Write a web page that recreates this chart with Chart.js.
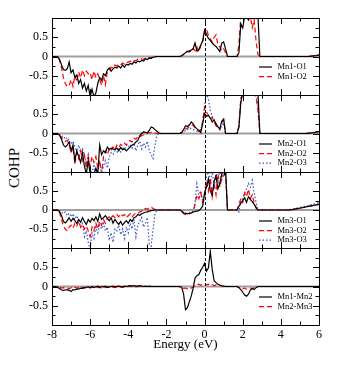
<!DOCTYPE html>
<html>
<head>
<meta charset="utf-8">
<script src="https://cdn.jsdelivr.net/npm/chart.js@4.4.1/dist/chart.umd.min.js"></script>
<style>
  html, body { margin: 0; padding: 0; background: #fff; }
  #figure { position: relative; width: 343px; height: 366px; overflow: hidden; }
  .panel { position: absolute; left: 0; width: 343px; }
  #ylabel {
    position: absolute; left: -16px; top: 159px; width: 60px; height: 18px;
    line-height: 18px; text-align: center; transform: rotate(-90deg);
    font-family: 'Liberation Serif', 'Times New Roman', serif; font-size: 15px; color: #000;
  }
</style>
</head>
<body>
<div id="figure">
  <div id="ylabel">COHP</div>
</div>
<script>
// Energy grid (eV), 0.1 eV steps
const energy = [
  -8.0, -7.9, -7.8, -7.7, -7.6, -7.5, -7.4, -7.3, -7.2, -7.1,
  -7.0, -6.9, -6.8, -6.7, -6.6, -6.5, -6.4, -6.3, -6.2, -6.1,
  -6.0, -5.9, -5.8, -5.7, -5.6, -5.5, -5.4, -5.3, -5.2, -5.1,
  -5.0, -4.9, -4.8, -4.7, -4.6, -4.5, -4.4, -4.3, -4.2, -4.1,
  -4.0, -3.9, -3.8, -3.7, -3.6, -3.5, -3.4, -3.3, -3.2, -3.1,
  -3.0, -2.9, -2.8, -2.7, -2.6, -2.5, -2.4, -2.3, -2.2, -2.1,
  -2.0, -1.9, -1.8, -1.7, -1.6, -1.5, -1.4, -1.3, -1.2, -1.1,
  -1.0, -0.9, -0.8, -0.7, -0.6, -0.5, -0.4, -0.3, -0.2, -0.1,
  0.0, 0.1, 0.2, 0.3, 0.4, 0.5, 0.6, 0.7, 0.8, 0.9,
  1.0, 1.1, 1.2, 1.3, 1.4, 1.5, 1.6, 1.7, 1.8, 1.9,
  2.0, 2.1, 2.2, 2.3, 2.4, 2.5, 2.6, 2.7, 2.8, 2.9,
  3.0, 3.1, 3.2, 3.3, 3.4, 3.5, 3.6, 3.7, 3.8, 3.9,
  4.0, 4.1, 4.2, 4.3, 4.4, 4.5, 4.6, 4.7, 4.8, 4.9,
  5.0, 5.1, 5.2, 5.3, 5.4, 5.5, 5.6, 5.7, 5.8, 5.9,
  6.0
];

// Panel 1
const mn1O1 = [
  0, 0, 0, -0.01, -0.08, -0.22, -0.34, -0.36, -0.32, -0.14,
  -0.42, -0.35, -0.55, -0.48, -0.7, -0.6, -0.82, -0.7, -0.9, -0.75,
  -1.05, -0.85, -1.05, -0.95, -0.7, -0.55, -0.62, -0.45, -0.5, -0.35,
  -0.3, -0.38, -0.32, -0.28, -0.3, -0.25, -0.3, -0.22, -0.28, -0.2,
  -0.22, -0.18, -0.2, -0.14, -0.17, -0.12, -0.14, -0.1, -0.12, -0.06,
  -0.08, -0.04, -0.05, -0.02, -0.01, 0, 0, 0, 0, 0,
  0, 0, 0, 0, 0, 0, 0, 0, 0.02, 0.06,
  0.1, 0.14, 0.12, 0.17, 0.2, 0.35, 0.14, 0.18, 0.3, 0.4,
  0.69, 0.58, 0.47, 0.42, 0.35, 0.3, 0.26, 0.2, 0.13, 0.35,
  0.38, 0.2, 0, 0, 0, 0, 0, 0, 0.1, 0.85,
  0.74, 1.05, 1.05, 0.95, 1.05, 1.05, 1.05, 1.05, 1.05, 0,
  0, 0, 0, 0, 0, 0, 0, 0, 0, 0,
  0, 0, 0, 0, 0, 0, 0, 0, 0, 0,
  0, 0, 0, 0, 0, 0.005, 0.01, 0.015, 0.02, 0.03,
  0.04
];
const mn1O2 = [
  0, 0, 0, 0, -0.1, -0.3, -0.55, -0.7, -0.78, -0.75,
  -0.6, -0.78, -0.5, -0.65, -0.4, -0.55, -0.35, -0.5, -0.38, -0.45,
  -0.42, -0.6, -0.38, -0.55, -0.45, -0.6, -0.75, -0.5, -0.73, -0.4,
  -0.35, -0.28, -0.3, -0.22, -0.25, -0.2, -0.22, -0.17, -0.2, -0.15,
  -0.15, -0.12, -0.14, -0.1, -0.11, -0.07, -0.09, -0.06, -0.08, -0.04,
  -0.05, -0.03, -0.03, -0.01, 0, 0, 0, 0, 0, 0,
  0, 0, 0, 0, 0, 0, 0, 0, 0.02, 0.05,
  0.1, 0.12, 0.15, 0.12, 0.2, 0.15, 0.25, 0.12, 0.28, 0.4,
  0.6, 0.72, 0.55, 0.45, 0.38, 0.5, 0.56, 0.3, 0.25, 0.15,
  0.2, 0.1, 0, 0, 0, 0, 0, 0, 0.3, 1.05,
  1.05, 1.05, 1.05, 1.05, 1.05, 0.75, 0.95, 0.4, 0.05, 0,
  0, 0, 0, 0, 0, 0, 0, 0, 0, 0,
  0, 0, 0, 0, 0, 0, 0, 0, 0, 0,
  0, 0, 0, 0, 0, 0.005, 0.01, 0.015, 0.02, 0.03,
  0.04
];

// Panel 2
const mn2O1 = [
  0, 0, 0, 0, -0.05, -0.15, -0.3, -0.35, -0.3, -0.22,
  -0.45, -0.3, -0.7, -0.45, -0.6, -0.75, -0.5, -0.85, -1.05, -0.7,
  -1.05, -1.05, -1.05, -0.9, -1.05, -0.3, -0.55, -0.45, -0.5, -0.35,
  -0.42, -0.38, -0.4, -0.42, -0.38, -0.45, -0.36, -0.42, -0.4, -0.45,
  -0.4, -0.35, -0.3, -0.28, -0.22, -0.18, -0.06, 0, 0.04, 0.03,
  0.02, 0.08, 0.17, 0.15, 0.1, 0.06, 0.02, 0, 0, 0,
  0, 0, 0, 0, 0, 0, 0, 0, 0.03, 0.1,
  0.2, 0.18, 0.22, 0.3, 0.25, 0.17, 0.12, 0.08, 0.02, 0.25,
  0.52, 0.45, 0.47, 0.4, 0.3, 0.35, 0.25, 0.17, 0.12, 0.32,
  0.38, 0, 0, 0, 0, 0, 0, 0, 0.15, 0.8,
  1.05, 1.05, 1.05, 1.05, 1.05, 1.05, 1.05, 1.05, 1.05, 0,
  0, 0, 0, 0, 0, 0, 0, 0, 0, 0,
  0, 0, 0, 0, 0, 0, 0, 0, 0, 0,
  0, 0, 0, 0, 0.005, 0.01, 0.015, 0.02, 0.03, 0.04,
  0.05
];
const mn2O2 = [
  0, 0, 0, 0, -0.05, -0.1, -0.15, -0.2, -0.18, -0.3,
  -0.5, -0.35, -0.8, -0.5, -0.65, -0.45, -0.7, -0.55, -0.9, -0.6,
  -0.85, -0.6, -0.75, -0.6, -0.9, -0.7, -1.05, -0.6, -0.45, -0.55,
  -0.4, -0.45, -0.35, -0.42, -0.3, -0.36, -0.28, -0.32, -0.25, -0.3,
  -0.22, -0.18, -0.22, -0.12, -0.15, -0.08, -0.1, -0.05, -0.04, -0.02,
  0, 0.02, 0.03, 0.02, 0.01, 0, 0, 0, 0, 0,
  0, 0, 0, 0, 0, 0, 0, 0, 0.02, 0.06,
  0.12, 0.14, 0.18, 0.2, 0.22, 0.15, 0.1, 0.06, 0.1, 0.3,
  0.68, 0.55, 0.48, 0.38, 0.42, 0.3, 0.2, 0.15, 0.1, 0.28,
  0.35, 0, 0, 0, 0, 0, 0, 0, 0.2, 0.9,
  1.05, 1.05, 1.05, 1.05, 1.05, 1.05, 1.05, 0.95, 0.6, 0,
  0, 0, 0, 0, 0, 0, 0, 0, 0, 0,
  0, 0, 0, 0, 0, 0, 0, 0, 0, 0,
  0, 0, 0, 0, 0.005, 0.01, 0.015, 0.02, 0.03, 0.04,
  0.05
];
const mn2O3 = [
  0, 0, 0, 0, -0.04, -0.08, -0.06, -0.15, -0.1, -0.2,
  -0.28, -0.2, -0.35, -0.45, -0.3, -0.5, -0.4, -0.6, -0.75, -0.55,
  -0.9, -1.05, -0.8, -1.05, -0.95, -0.75, -1.05, -0.85, -0.7, -0.9,
  -0.6, -0.5, -0.55, -0.45, -0.5, -0.4, -0.48, -0.35, -0.42, -0.3,
  -0.35, -0.28, -0.38, -0.25, -0.45, -0.3, -0.2, -0.4, -0.25, -0.35,
  -0.2, -0.45, -0.55, -0.65, -0.3, -0.05, 0, 0, 0, 0,
  0, 0, 0, 0, 0, 0, 0, 0, 0.01, 0.04,
  0.08, 0.1, 0.15, 0.12, 0.1, 0.08, 0.06, 0.05, 0.1, 0.3,
  0.75, 1.05, 0.9, 0.6, 0.45, 0.35, 0.25, 0.18, 0.1, 0.2,
  0.28, 0, 0, 0, 0, 0, 0, 0, 0.2, 0.95,
  1.05, 1.05, 1.05, 1.05, 1.05, 1.05, 1.05, 1.05, 0.7, 0,
  0, 0, 0, 0, 0, 0, 0, 0, 0, 0,
  0, 0, 0, 0, 0, 0, 0, 0, 0, 0,
  0, 0, 0, 0, 0.005, 0.01, 0.015, 0.02, 0.03, 0.04,
  0.05
];

// Panel 3
const mn3O1 = [
  0, 0, 0, 0, -0.04, -0.15, -0.3, -0.34, -0.28, -0.2,
  -0.3, -0.22, -0.28, -0.35, -0.25, -0.32, -0.2, -0.3, -0.38, -0.25,
  -0.32, -0.22, -0.28, -0.18, -0.3, -0.1, -0.25, -0.2, -0.15, -0.22,
  -0.28, -0.2, -0.35, -0.25, -0.32, -0.38, -0.3, -0.4, -0.33, -0.28,
  -0.35, -0.25, -0.3, -0.2, -0.18, -0.12, -0.14, -0.1, -0.08, -0.06,
  -0.05, -0.03, -0.02, -0.01, 0, 0, 0, 0, 0, 0,
  0, 0, 0, 0, 0, 0, 0, 0, -0.03, -0.08,
  -0.09, -0.1, -0.09, -0.08, -0.06, -0.04, -0.03, -0.01, 0.03, 0.1,
  0.45, 0.6, 0.82, 0.5, 0.39, 0.75, 0.9, 0.56, 0.7, 0.95,
  1.0, 1.05, 0, 0, 0, 0, 0, 0, 0.1, 0.18,
  0.25, 0.32, 0.2, 0.35, 0.28, 0.22, 0.15, 0.05, 0, 0,
  0, 0, 0, 0, 0, 0, 0, 0, 0, 0,
  0, 0, 0, 0, 0, 0.005, 0.01, 0.02, 0.03, 0.04,
  0.05, 0.06, 0.07, 0.08, 0.09, 0.1, 0.11, 0.12, 0.13, 0.14,
  0.15
];
const mn3O2 = [
  0, 0, 0, 0, -0.08, -0.25, -0.42, -0.5, -0.55, -0.45,
  -0.4, -0.48, -0.35, -0.42, -0.3, -0.45, -0.38, -0.5, -0.42, -0.55,
  -0.7, -0.45, -0.55, -0.35, -0.5, -0.3, -0.4, -0.25, -0.35, -0.22,
  -0.18, -0.22, -0.15, -0.2, -0.12, -0.18, -0.1, -0.15, -0.12, -0.2,
  -0.15, -0.1, -0.18, -0.12, -0.08, -0.1, -0.05, -0.03, 0.02, 0.04,
  0.02, 0.06, 0.08, 0.04, 0.02, 0, 0, 0, 0, 0,
  0, 0, 0, 0, 0, 0, 0, 0, -0.04, -0.1,
  -0.12, -0.11, -0.1, -0.08, -0.04, 0.15, 0.4, 0.3, 0.45, 0.2,
  0.3, 0.75, 0.5, 0.85, 0.35, 0.7, 0.4, 0.95, 0.6, 0.85,
  0.9, 1.05, 0, 0, 0, 0, 0, 0, 0.15, 0.3,
  0.2, 0.45, 0.35, 0.55, 0.3, 0.4, 0.2, 0.08, 0, 0,
  0, 0, 0, 0, 0, 0, 0, 0, 0, 0,
  0, 0, 0, 0, 0, 0.005, 0.01, 0.02, 0.03, 0.04,
  0.05, 0.06, 0.07, 0.08, 0.09, 0.1, 0.11, 0.12, 0.13, 0.14,
  0.15
];
const mn3O3 = [
  0, 0, 0, 0, -0.02, -0.06, -0.1, -0.05, -0.15, -0.08,
  -0.18, -0.1, -0.25, -0.15, -0.3, -0.45, -0.35, -0.7, -0.55, -0.85,
  -1.05, -0.6, -0.75, -0.45, -0.6, -0.4, -0.5, -0.35, -0.55, -0.45,
  -0.8, -0.6, -0.85, -0.5, -0.55, -0.4, -0.65, -0.5, -0.75, -0.45,
  -0.6, -0.35, -0.5, -0.25, -0.7, -0.4, -0.3, -0.2, -0.45, -0.35,
  -0.2, -0.9, -0.95, -0.5, -0.1, 0, 0, 0, 0, 0,
  0, 0, 0, 0, 0, 0, 0, 0, -0.02, -0.06,
  -0.08, -0.08, -0.07, -0.05, -0.03, 0.2, 0.69, 0.4, 0.5, 0.25,
  0.4, 0.9, 1.05, 0.7, 1.05, 0.6, 0.95, 0.75, 1.05, 0.8,
  1.05, 1.05, 0, 0, 0, 0, 0, 0, -0.05, 0.25,
  0.3, 0.45, 0.55, 0.7, 0.6, 0.78, 0.45, 0.2, 0, 0,
  0, 0, 0, 0, 0, 0, 0, 0, 0, 0,
  0, 0, 0, 0, 0.01, 0.02, 0.03, 0.04, 0.05, 0.06,
  0.07, 0.08, 0.09, 0.1, 0.11, 0.12, 0.14, 0.15, 0.17, 0.18,
  0.2
];

// Panel 4
const mn1Mn2 = [
  0, 0, 0, -0.02, -0.06, -0.09, -0.1, -0.09, -0.08, -0.1,
  -0.13, -0.08, -0.09, -0.06, -0.07, -0.04, -0.05, -0.03, -0.02, -0.01,
  -0.03, 0, -0.02, -0.01, 0.01, -0.02, 0, -0.01, 0.01, -0.02,
  -0.01, 0, 0.01, -0.01, 0, 0.01, 0, -0.01, 0.01, 0,
  0.01, 0.02, 0.01, 0.02, 0.01, 0.01, 0.02, 0.01, 0, 0.01,
  0, 0.01, 0, 0, 0, 0, 0, 0, 0, 0,
  0, 0, 0, 0, 0, 0, 0, 0, -0.02, -0.2,
  -0.6, -0.55, -0.4, -0.25, -0.05, 0.22, 0.28, 0.31, 0.42, 0.5,
  0.6, 0.4, 0.48, 0.91, 0.45, 0.15, 0.1, 0.06, 0.04, 0.02,
  0.01, 0, 0, 0, 0, 0, 0, 0, -0.03, -0.08,
  -0.15, -0.22, -0.25, -0.2, -0.1, -0.05, -0.08, -0.03, 0, 0,
  0, 0, 0, 0, 0, 0, 0, 0, 0, 0,
  0, 0, 0, 0, 0, 0, 0, 0, 0, 0,
  0, 0, 0, 0, 0, 0, 0, 0, 0, 0,
  0
];
const mn2Mn3 = [
  0, 0, 0, 0, -0.02, -0.04, -0.03, -0.05, -0.03, -0.06,
  -0.03, -0.05, -0.02, -0.04, -0.03, -0.05, -0.02, -0.04, -0.03, -0.02,
  -0.04, -0.02, -0.03, -0.05, -0.02, -0.03, -0.04, -0.02, -0.03, -0.02,
  -0.03, -0.01, -0.02, -0.03, -0.01, -0.02, -0.01, -0.02, -0.01, 0,
  0.01, 0, 0.01, 0, -0.01, 0, 0.01, 0, 0, 0,
  0, 0, 0, 0, 0, 0, 0, 0, 0, 0,
  0, 0, 0, 0, 0, 0, 0, -0.01, -0.03, -0.05,
  -0.04, -0.06, -0.03, -0.04, -0.02, 0.02, 0.04, 0.06, 0.03, 0.05,
  0.07, 0.04, 0.06, 0.03, 0.05, 0.02, 0.04, 0.02, 0.03, 0.01,
  0, 0, 0, 0, 0, 0, 0, 0, -0.02, -0.05,
  -0.06, -0.04, -0.07, -0.05, -0.04, -0.06, -0.03, -0.02, 0, 0,
  0, 0, 0, 0, 0, 0, 0, 0, 0, 0,
  0, 0, 0, 0, 0, 0, 0, 0, 0, 0,
  0, 0, 0, 0, 0, 0, 0, 0, 0, 0,
  0
];

const FONT = "'Liberation Serif', 'Times New Roman', serif";
const STYLES = {
  black: { color: '#000000', dash: [] },
  red:   { color: '#ff0000', dash: [5, 3] },
  blue:  { color: '#3a55d0', dash: [1.5, 2] }
};

const panels = [
  { top: 18, bottom: 95, series: [
    { label: 'Mn1-O1', values: mn1O1, style: 'black' },
    { label: 'Mn1-O2', values: mn1O2, style: 'red' }
  ]},
  { top: 95, bottom: 172, series: [
    { label: 'Mn2-O1', values: mn2O1, style: 'black' },
    { label: 'Mn2-O2', values: mn2O2, style: 'red' },
    { label: 'Mn2-O3', values: mn2O3, style: 'blue' }
  ]},
  { top: 172, bottom: 248, series: [
    { label: 'Mn3-O1', values: mn3O1, style: 'black' },
    { label: 'Mn3-O2', values: mn3O2, style: 'red' },
    { label: 'Mn3-O3', values: mn3O3, style: 'blue' }
  ]},
  { top: 248, bottom: 325, series: [
    { label: 'Mn1-Mn2', values: mn1Mn2, style: 'black' },
    { label: 'Mn2-Mn3', values: mn2Mn3, style: 'red' }
  ]}
];

// zero line, dashed Fermi level, frame, inward ticks and legend
const panelDecor = {
  id: 'panelDecor',
  beforeDatasetsDraw(chart) {
    const { ctx, chartArea: a, scales: { y } } = chart;
    const y0 = y.getPixelForValue(0);
    ctx.save();
    ctx.strokeStyle = '#a0a0a0';
    ctx.lineWidth = 2;
    ctx.beginPath();
    ctx.moveTo(a.left, y0);
    ctx.lineTo(a.right, y0);
    ctx.stroke();
    ctx.restore();
  },
  afterDatasetsDraw(chart) {
    const { ctx, chartArea: a, scales: { x, y } } = chart;
    ctx.save();
    // Fermi level
    const xf = Math.round(x.getPixelForValue(0)) + 0.5;
    ctx.strokeStyle = '#000';
    ctx.lineWidth = 1;
    ctx.setLineDash([3, 2]);
    ctx.beginPath();
    ctx.moveTo(xf, a.top);
    ctx.lineTo(xf, a.bottom);
    ctx.stroke();
    ctx.setLineDash([]);

    // inward ticks
    ctx.beginPath();
    for (let e = -8; e <= 6; e++) {
      const px = Math.round(x.getPixelForValue(e)) + 0.5;
      const len = e % 2 === 0 ? 6 : 3.5;
      ctx.moveTo(px, a.top); ctx.lineTo(px, a.top + len);
      ctx.moveTo(px, a.bottom); ctx.lineTo(px, a.bottom - len);
    }
    for (let k = -4; k <= 4; k++) {
      const v = k * 0.25;
      const py = Math.round(y.getPixelForValue(v)) + 0.5;
      const len = k % 2 === 0 ? 6 : 3.5;
      ctx.moveTo(a.left, py); ctx.lineTo(a.left + len, py);
      ctx.moveTo(a.right, py); ctx.lineTo(a.right - len, py);
    }
    ctx.stroke();

    // frame
    ctx.strokeRect(Math.round(a.left) + 0.5, Math.round(a.top) + 0.5,
      Math.round(a.right - a.left), Math.round(a.bottom - a.top));

    // legend inside the lower right corner
    ctx.font = '8.5px ' + FONT;
    ctx.textBaseline = 'middle';
    ctx.fillStyle = '#000';
    chart.data.datasets.forEach((ds, i) => {
      const ly = a.top + 49 + i * 9.6;
      ctx.strokeStyle = ds.borderColor;
      ctx.lineWidth = 1.2;
      ctx.setLineDash(ds.borderDash);
      ctx.beginPath();
      ctx.moveTo(259, ly);
      ctx.lineTo(272, ly);
      ctx.stroke();
      ctx.setLineDash([]);
      ctx.fillText(ds.label, 277.5, ly);
    });
    ctx.restore();
  }
};

const figure = document.getElementById('figure');
const FIG_H = 366;
const PAD = 8;
const BOTTOM_PAD = 13.8;

panels.forEach((panel, idx) => {
  const last = idx === panels.length - 1;
  const boxTop = panel.top - PAD;
  const boxH = last ? FIG_H - boxTop : (panel.bottom - panel.top) + 2 * PAD;
  const areaBottom = panel.bottom - boxTop;

  const box = document.createElement('div');
  box.className = 'panel';
  box.style.top = boxTop + 'px';
  box.style.height = boxH + 'px';
  const canvas = document.createElement('canvas');
  canvas.width = 343;
  canvas.height = boxH;
  canvas.style.width = '343px';
  canvas.style.height = boxH + 'px';
  box.appendChild(canvas);
  figure.appendChild(box);

  new Chart(canvas.getContext('2d'), {
    type: 'line',
    data: {
      datasets: panel.series.map(s => ({
        label: s.label,
        data: energy.map((e, i) => ({ x: e, y: s.values[i] })),
        borderColor: STYLES[s.style].color,
        borderDash: STYLES[s.style].dash,
        borderWidth: 1.2,
        pointRadius: 0,
        tension: 0,
        fill: false
      }))
    },
    options: {
      responsive: false,
      animation: false,
      events: [],
      layout: { padding: { left: 0, right: 24, top: PAD, bottom: last ? BOTTOM_PAD : PAD } },
      plugins: { legend: { display: false }, tooltip: { enabled: false } },
      scales: {
        x: {
          type: 'linear',
          min: -8,
          max: 6,
          display: last,
          grid: { display: false, drawTicks: false },
          border: { display: false },
          ticks: { stepSize: 2, padding: 3, color: '#000', font: { family: FONT, size: 12 } },
          title: { display: true, text: 'Energy (eV)', color: '#000', padding: 0, font: { family: FONT, size: 13 } },
          afterFit(scale) {
            if (last) scale.height = boxH - BOTTOM_PAD - areaBottom;
            scale.paddingLeft = 0;
            scale.paddingRight = 0;
          }
        },
        y: {
          min: -1,
          max: 1,
          grid: { display: false, drawTicks: false },
          border: { display: false },
          ticks: {
            stepSize: 0.5,
            padding: 4,
            color: '#000',
            font: { family: FONT, size: 12 },
            callback: v => (Math.abs(v) >= 1 ? '' : String(v))
          },
          afterFit(scale) {
            scale.width = 52;
            scale.paddingTop = 0;
            scale.paddingBottom = 0;
          }
        }
      }
    },
    plugins: [panelDecor]
  });
});
</script>
</body>
</html>
